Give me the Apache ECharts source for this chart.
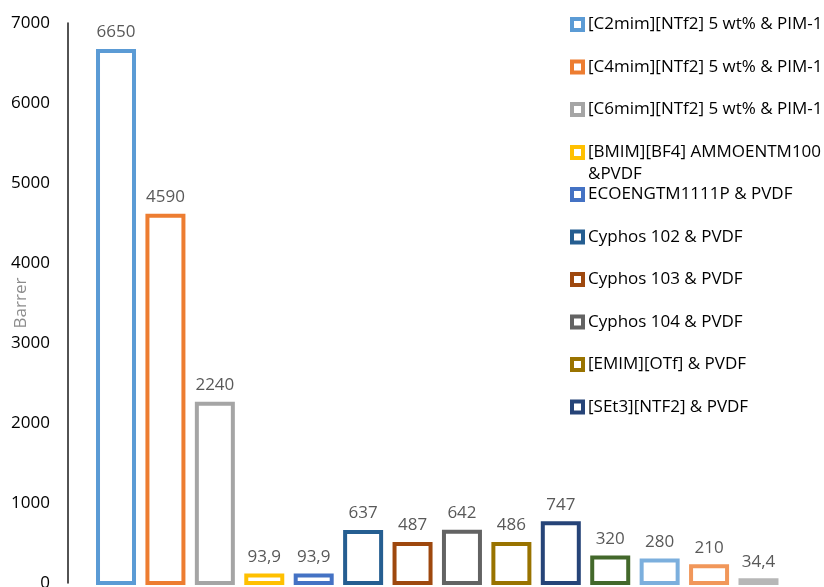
<!DOCTYPE html>
<html>
<head>
<meta charset="utf-8">
<script src="https://cdn.jsdelivr.net/npm/echarts@6/dist/echarts.min.js"></script>
<style>
  html, body { margin: 0; padding: 0; background: #fff; }
  #chart { width: 824px; height: 587px; }
</style>
</head>
<body>
<div id="chart"></div>
<script>
// Membrane systems (one bar each) and their permeability in Barrer
const systems = [
  '[C2mim][NTf2] 5 wt% & PIM-1',
  '[C4mim][NTf2] 5 wt% & PIM-1',
  '[C6mim][NTf2] 5 wt% & PIM-1',
  '[BMIM][BF4] AMMOENTM100 &PVDF',
  'ECOENGTM1111P & PVDF',
  'Cyphos 102 & PVDF',
  'Cyphos 103 & PVDF',
  'Cyphos 104 & PVDF',
  '[EMIM][OTf] & PVDF',
  '[SEt3][NTF2] & PVDF',
  'Series11',
  'Series12',
  'Series13',
  'Series14'
];
const permeability = [6650, 4590, 2240, 93.9, 93.9, 637, 487, 642, 486, 747, 320, 280, 210, 34.4];

// y-axis range and step
const yMin = 0;
const yMax = 7000;
const yStep = 1000;
const yName = 'Barrer';

// palette, one colour per bar
const palette = [
  '#5B9BD5', '#ED7D31', '#A5A5A5', '#FFC000', '#4472C4', '#255E91', '#9E480E',
  '#636363', '#997300', '#264478', '#43682B', '#7CAFDD', '#F1975A', '#B7B7B7'
];

const FONT = '"Open Sans", "Noto Sans", sans-serif';
const BAR_W = 36;
const BORDER = 4;

const fmt = v => String(v).replace('.', ',');

// Hollow bars: outline stroke centred on the bar edges
function makeRenderer(color) {
  return function (params, api) {
    const idx = api.value(0);
    const val = api.value(1);
    const top = api.coord([idx, val]);
    const base = api.coord([idx, 0]);
    return {
      type: 'rect',
      shape: { x: top[0] - BAR_W / 2, y: top[1], width: BAR_W, height: base[1] - top[1] },
      style: { fill: '#ffffff', stroke: color, lineWidth: BORDER },
      textContent: {
        style: { text: fmt(val), fill: '#595959', fontSize: 17, fontFamily: FONT }
      },
      textConfig: { position: 'top', distance: 8 }
    };
  };
}

const series = systems.map((name, i) => ({
  name: name,
  type: 'custom',
  coordinateSystem: 'cartesian2d',
  itemStyle: { color: '#ffffff', borderColor: palette[i], borderWidth: BORDER },
  encode: { x: 0, y: 1 },
  data: [[i, permeability[i]]],
  renderItem: makeRenderer(palette[i]),
  clip: false,
  emphasis: { disabled: true }
}));

const legendItems = systems.map((name, i) => ({
  name: name,
  itemStyle: { color: '#ffffff', borderColor: palette[i], borderWidth: 4 }
}));

const legendBase = {
  orient: 'vertical',
  left: 570,
  padding: 0,
  itemWidth: 11,
  itemHeight: 11,
  itemGap: 22.5,
  icon: 'rect',
  selectedMode: false,
  textStyle: { color: '#000', fontSize: 17, fontFamily: FONT, lineHeight: 20 }
};

const chart = echarts.init(document.getElementById('chart'), null, { renderer: 'canvas' });
chart.setOption({
  backgroundColor: '#ffffff',
  animation: false,
  grid: {
    left: 91.3, right: 40.8, top: 23, bottom: 4,
    containLabel: false,
    outerBoundsMode: 'none'
  },
  xAxis: {
    type: 'category',
    data: systems,
    axisLine: { show: false },
    axisTick: { show: false },
    axisLabel: { show: false },
    splitLine: { show: false }
  },
  yAxis: {
    type: 'value',
    min: yMin,
    max: yMax,
    interval: yStep,
    offset: 23.3,
    name: yName,
    nameLocation: 'middle',
    nameGap: 38,
    nameMoveOverlap: false,
    nameTextStyle: { color: '#8c8c8c', fontSize: 17, fontFamily: FONT },
    axisLine: { show: true, lineStyle: { color: '#1a1a1a', width: 1.5 } },
    axisTick: { show: false },
    splitLine: { show: false },
    axisLabel: {
      color: '#000', fontSize: 17, fontFamily: FONT, margin: 18,
      formatter: v => String(v)
    }
  },
  legend: [
    Object.assign({}, legendBase, { top: 14.5, data: legendItems.slice(0, 3) }),
    Object.assign({}, legendBase, {
      top: 119.5,
      data: legendItems.slice(3, 4),
      // blank first line keeps the icon level with the first text line
      formatter: n => '\n' + n.replace(' &', '\n&'),
      textStyle: { color: '#000', fontSize: 17, fontFamily: FONT, lineHeight: 22 }
    }),
    Object.assign({}, legendBase, { top: 184.5, data: legendItems.slice(4, 10) })
  ],
  series: series
});
</script>
</body>
</html>
